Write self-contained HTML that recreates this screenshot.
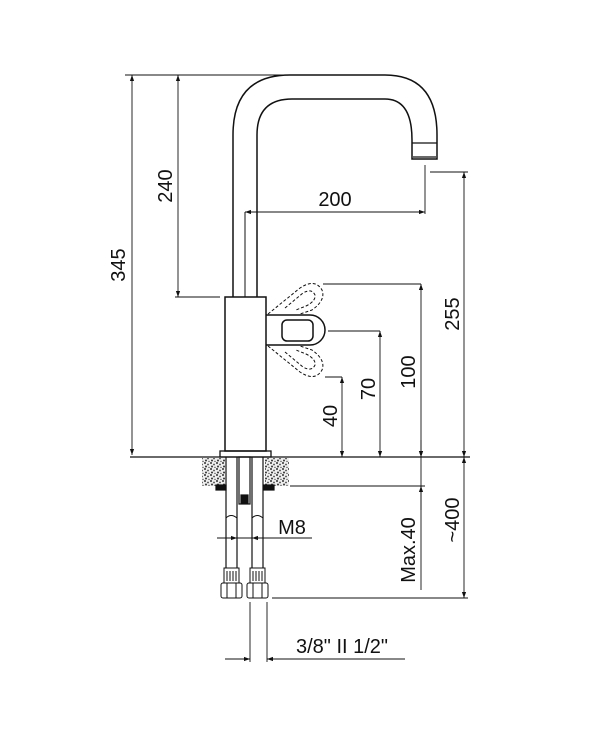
<!DOCTYPE html>
<html><head><meta charset="utf-8"><style>
html,body{margin:0;padding:0;background:#fff;}
svg{display:block}
text{font-family:"Liberation Sans",Arial,sans-serif;font-size:20px;fill:#111}
</style></head><body>
<svg width="600" height="750" viewBox="0 0 600 750" xmlns="http://www.w3.org/2000/svg">
<defs>
<marker id="a" viewBox="0 0 10 10" refX="10" refY="5" markerWidth="9" markerHeight="6" orient="auto-start-reverse" markerUnits="userSpaceOnUse"><path d="M0,1.5 L10,5 L0,8.5z" fill="#111"/></marker>
<pattern id="st" width="6" height="6" patternUnits="userSpaceOnUse"><rect width="6" height="6" fill="#eee"/><circle cx="1" cy="1" r="1" fill="#333"/><circle cx="4" cy="2.5" r="0.9" fill="#444"/><circle cx="2" cy="4.5" r="1" fill="#333"/><circle cx="5" cy="5.5" r="0.7" fill="#555"/></pattern>
</defs>
<g stroke="#111" fill="none" stroke-width="1.2">
<path d="M233,297 L233,135 Q233,75 290,75 L385,75 Q437,75 437,135 L437,159 L412,159 L412,140 Q412,99 385,99 L292,99 Q257,99 257,135 L257,297" stroke-width="1.5"/>
<line x1="412" y1="143" x2="437" y2="143"/>
<line x1="413" y1="157" x2="436" y2="157"/>
<line x1="245" y1="212" x2="245" y2="297" stroke-width="1"/>
<rect x="225" y="297" width="41" height="154" stroke-width="1.5"/>
<rect x="220" y="451" width="51" height="6" stroke-width="1.3"/>
<path d="M266,315 L310,315 A15,15 0 0 1 310,345 L266,345" stroke-width="1.5"/>
<rect x="282" y="320" width="31" height="21" rx="5" stroke-width="1.5"/>
<g stroke-dasharray="3,2" stroke-width="1">
<path d="M268,314 L300,288 Q315,278 322,290 Q326,300 312,310 L300,314"/>
<path d="M285,308 L303,293 Q312,288 315,295 Q316,301 306,306 L296,310"/>
<path d="M268,346 L300,372 Q315,382 322,370 Q326,360 312,350 L300,346"/>
<path d="M285,352 L303,367 Q312,372 315,365 Q316,359 306,354 L296,350"/>
</g>
<line x1="130" y1="457" x2="470" y2="457" stroke-width="1.3"/>
<rect x="202" y="458" width="23" height="28" fill="url(#st)" stroke="none"/>
<rect x="265" y="458" width="24" height="28" fill="url(#st)" stroke="none"/>
<rect x="216" y="485" width="10" height="5" fill="#111"/>
<rect x="264" y="485" width="10" height="5" fill="#111"/>
<rect x="239" y="457" width="11" height="47"/>
<rect x="241" y="495" width="7" height="8" fill="#111"/>
<line x1="226" y1="457" x2="226" y2="568"/><line x1="237" y1="457" x2="237" y2="568"/>
<line x1="252" y1="457" x2="252" y2="568"/><line x1="263" y1="457" x2="263" y2="568"/>
<path d="M226,518 Q231,513 237,518 M252,518 Q257,513 263,518" stroke-width="1"/>
<g stroke-width="1">
<rect x="224" y="568" width="15" height="15"/><rect x="250" y="568" width="15" height="15"/>
<path d="M227,571v10M230,571v10M233,571v10M236,571v10M253,571v10M256,571v10M259,571v10M262,571v10"/>
<rect x="221" y="583" width="21" height="15" rx="2"/><rect x="247" y="583" width="21" height="15" rx="2"/>
<path d="M227,583v15M236,583v15M253,583v15M262,583v15"/>
</g>
</g>
<g stroke="#111" stroke-width="0.9" fill="none">
<line x1="125" y1="75" x2="285" y2="75"/>
<line x1="132" y1="75" x2="132" y2="455" marker-start="url(#a)" marker-end="url(#a)"/>
<line x1="175" y1="297" x2="220" y2="297"/>
<line x1="178" y1="75" x2="178" y2="297" marker-start="url(#a)" marker-end="url(#a)"/>
<line x1="245" y1="212" x2="425" y2="212" marker-start="url(#a)" marker-end="url(#a)"/>
<line x1="425" y1="165" x2="425" y2="214"/>
<line x1="430" y1="172" x2="468" y2="172"/>
<line x1="464" y1="172" x2="464" y2="457" marker-start="url(#a)" marker-end="url(#a)"/>
<line x1="323" y1="284" x2="421" y2="284"/>
<line x1="421" y1="284" x2="421" y2="457" marker-start="url(#a)" marker-end="url(#a)"/>
<line x1="328" y1="331" x2="380" y2="331"/>
<line x1="380" y1="331" x2="380" y2="457" marker-start="url(#a)" marker-end="url(#a)"/>
<line x1="325" y1="377" x2="342" y2="377"/>
<line x1="342" y1="377" x2="342" y2="457" marker-start="url(#a)" marker-end="url(#a)"/>
<line x1="290" y1="486" x2="425" y2="486"/>
<line x1="421" y1="457" x2="421" y2="590"/>
<line x1="421" y1="510" x2="421" y2="486" marker-end="url(#a)"/>
<line x1="421" y1="440" x2="421" y2="457" marker-end="url(#a)"/>
<line x1="464" y1="457" x2="464" y2="598" marker-start="url(#a)" marker-end="url(#a)"/>
<line x1="272" y1="598" x2="468" y2="598"/>
<line x1="217" y1="538" x2="312" y2="538"/>
<line x1="217" y1="538" x2="237" y2="538" marker-end="url(#a)"/>
<line x1="272" y1="538" x2="252" y2="538" marker-end="url(#a)"/>
<line x1="250" y1="602" x2="250" y2="662"/>
<line x1="267" y1="602" x2="267" y2="662"/>
<line x1="225" y1="659" x2="250" y2="659" marker-end="url(#a)"/>
<line x1="405" y1="659" x2="267" y2="659" marker-end="url(#a)"/>
</g>
<text x="335" y="206" text-anchor="middle">200</text>
<text x="292" y="534" text-anchor="middle">M8</text>
<text x="342" y="653" text-anchor="middle">3/8" II 1/2"</text>
<text transform="translate(125,265) rotate(-90)" text-anchor="middle">345</text>
<text transform="translate(172,186) rotate(-90)" text-anchor="middle">240</text>
<text transform="translate(459,314) rotate(-90)" text-anchor="middle">255</text>
<text transform="translate(415,372) rotate(-90)" text-anchor="middle">100</text>
<text transform="translate(375,389) rotate(-90)" text-anchor="middle">70</text>
<text transform="translate(337,416) rotate(-90)" text-anchor="middle">40</text>
<text transform="translate(415,550) rotate(-90)" text-anchor="middle">Max.40</text>
<text transform="translate(459,520) rotate(-90)" text-anchor="middle">~400</text>
</svg>
</body></html>
